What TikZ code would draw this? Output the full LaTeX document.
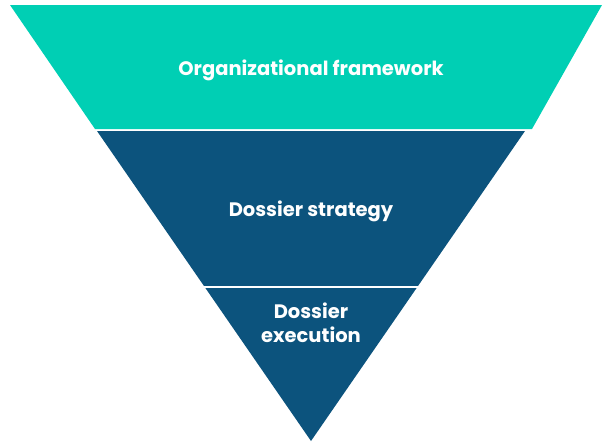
\documentclass[tikz,border=0pt]{standalone}
\usepackage{fontspec}
\setmainfont{Poppins}
\definecolor{teal1}{RGB}{0,207,180}
\definecolor{navy1}{RGB}{12,83,125}
\begin{document}
\begin{tikzpicture}[x=1pt,y=-1pt,
  lbl/.style={text=white,font=\fontsize{19.5}{24}\selectfont\bfseries,align=center,inner sep=0pt}]
\useasboundingbox (0,0) rectangle (602,442);
\fill[teal1] (10,5) -- (602,5) -- (532,129) -- (95,129) -- cycle;
\fill[navy1] (97,131) -- (525,131) -- (311,441) -- cycle;
\draw[white,line width=1.5pt] (150,287) -- (460,287);
\node[lbl] (t1) at (311,70) {Organizational framework};
\node[lbl] (t2) at (311,211) {Dossier strategy};
\node[lbl] (t3) at (311,323) {Dossier\\execution};
\end{tikzpicture}
\end{document}
